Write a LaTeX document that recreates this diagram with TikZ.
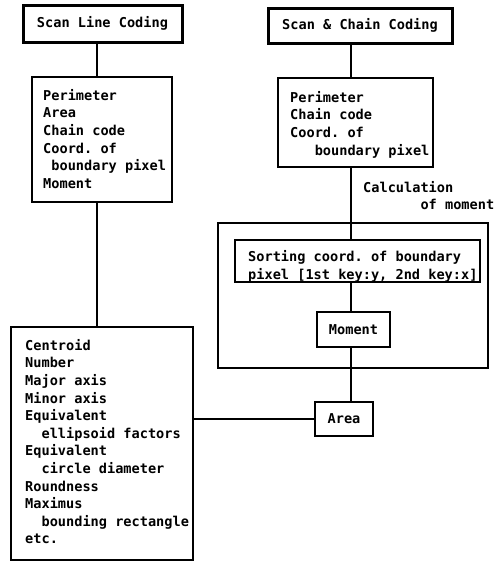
\documentclass[tikz,border=0pt]{standalone}
\usepackage{fontspec}
\setmonofont{DejaVu Sans Mono}
\newcommand\fs{\ttfamily\bfseries\fontsize{13.6}{17.6}\selectfont}
\tikzset{
  box/.style={draw, line width=1.5pt, inner sep=0pt},
  thickbox/.style={draw, line width=3pt, inner sep=0pt},
  txt/.style={font=\fs, align=left, anchor=north west, inner sep=0pt},
  conn/.style={line width=1.3pt},
}
\begin{document}
\begin{tikzpicture}[x=1pt,y=-1pt]
\useasboundingbox (0,0) rectangle (501,562);
% boxes
\node[thickbox, minimum width=159, minimum height=37] (slc) at (102.5,23.5) {\fs Scan Line Coding};
\node[thickbox, minimum width=184, minimum height=35] (sc) at (360,25.5) {\fs Scan \& Chain Coding};
\node[box, minimum width=140, minimum height=125] (lp) at (102,139.5) {};
\node[box, minimum width=155, minimum height=89] (rp) at (355.5,122.5) {};
\node[box, minimum width=270, minimum height=145] (outer) at (353,295.5) {};
\node[box, minimum width=245, minimum height=42] (sort) at (357.5,261) {};
\node[box, minimum width=73, minimum height=35] (mom) at (353.5,329.5) {\fs Moment};
\node[box, minimum width=58, minimum height=34] (area) at (344,419) {\fs Area};
\node[box, minimum width=182, minimum height=233] (cen) at (102,443.5) {};
% texts
\node[txt] (lpt) at (43,87.7) {\strut Perimeter\\Area\\Chain code\\Coord. of\\\hphantom{x}boundary pixel\\Moment};
\node[txt] (rpt) at (290,89.7) {\strut Perimeter\\Chain code\\Coord. of\\\hphantom{xxx}boundary pixel};
\node[txt] (calc) at (363,179.7) {\strut Calculation\\\hphantom{xxxxxxx}of moment};
\node[txt] (sortt) at (248,249.2) {\strut Sorting coord. of boundary\\pixel [1st key:y, 2nd key:x]};
\node[txt] (cent) at (25,337.7) {\strut Centroid\\Number\\Major axis\\Minor axis\\Equivalent\\\hphantom{xx}ellipsoid factors\\Equivalent\\\hphantom{xx}circle diameter\\Roundness\\Maximus\\\hphantom{xx}bounding rectangle\\etc.};
% connectors
\coordinate (lx) at (97,0);
\coordinate (rx) at (351,0);
\draw[conn] (slc.south -| lx) -- (lp.north -| lx);
\draw[conn] (lp.south -| lx) -- (cen.north -| lx);
\draw[conn] (sc.south -| rx) -- (rp.north -| rx);
\draw[conn] (rp.south -| rx) -- (outer.north -| rx);
\draw[conn] (outer.north -| rx) -- (sort.north -| rx);
\draw[conn] (sort.south -| rx) -- (mom.north -| rx);
\draw[conn] (mom.south -| rx) -- (outer.south -| rx);
\draw[conn] (outer.south -| rx) -- (area.north -| rx);
\draw[conn] (area.west) -- (area.west -| cen.east);
\end{tikzpicture}
\end{document}
